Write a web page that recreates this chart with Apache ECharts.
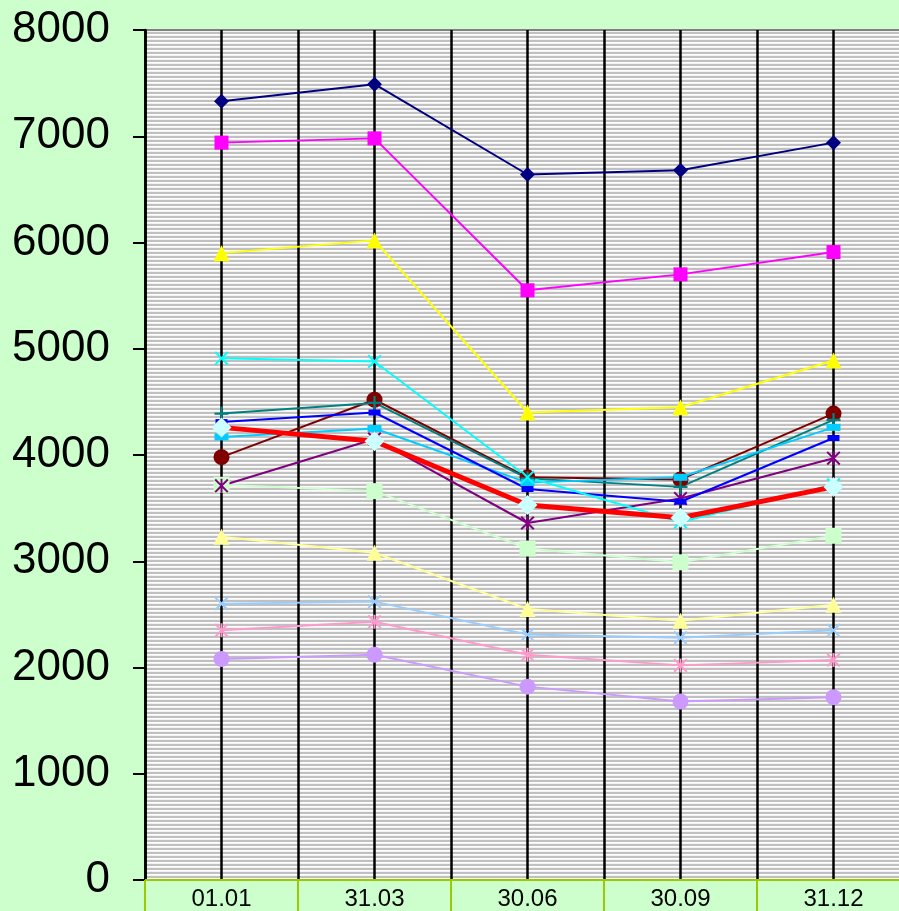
<!DOCTYPE html>
<html>
<head>
<meta charset="utf-8">
<script src="https://cdn.jsdelivr.net/npm/echarts@6/dist/echarts.min.js"></script>
<style>
html,body{margin:0;padding:0;background:#ccffcc;}
#chart{width:899px;height:911px;}
</style>
</head>
<body>
<div id="chart"></div>
<script>
// ---- data ----
const categories = ['01.01', '31.03', '30.06', '30.09', '31.12'];
const yTicks = [0, 1000, 2000, 3000, 4000, 5000, 6000, 7000, 8000];

const navy      = [7330, 7490, 6640, 6680, 6940];
const magenta   = [6940, 6980, 5550, 5700, 5910];
const yellow    = [5900, 6020, 4400, 4450, 4890];
const cyan      = [4910, 4880, 3790, 3370, 3720];
const teal      = [4390, 4490, 3780, 3700, 4330];
const maroon    = [3980, 4520, 3790, 3770, 4390];
const blue      = [4310, 4400, 3680, 3560, 4160];
const skyBlue   = [4170, 4250, 3740, 3790, 4260];
const red       = [4260, 4130, 3530, 3410, 3700];
const purple    = [3710, 4150, 3360, 3590, 3970];
const lightGreen= [3720, 3660, 3120, 2990, 3240];
const lightYellow=[3230, 3080, 2550, 2440, 2590];
const lightBlue = [2600, 2620, 2310, 2280, 2350];
const pink      = [2350, 2430, 2120, 2020, 2070];
const lavender  = [2080, 2120, 1820, 1680, 1720];

// ---- symbols ----
const SYM_X = 'path://M0,1 L1,0 L5,4 L9,0 L10,1 L6,5 L10,9 L9,10 L5,6 L1,10 L0,9 L4,5 Z';
const SYM_PLUS = 'path://M4.2,0 L5.8,0 L5.8,4.2 L10,4.2 L10,5.8 L5.8,5.8 L5.8,10 L4.2,10 L4.2,5.8 L0,5.8 L0,4.2 L4.2,4.2 Z';
const SYM_STAR = 'path://M0,1 L1,0 L5,4 L9,0 L10,1 L6,5 L10,9 L9,10 L5,6 L1,10 L0,9 L4,5 Z M4.3,0 L5.7,0 L5.7,10 L4.3,10 Z';

// stripe pattern for plot background
const pc = document.createElement('canvas');
pc.width = 4; pc.height = 4;
const pctx = pc.getContext('2d');
pctx.fillStyle = '#c0c0c0'; pctx.fillRect(0, 0, 4, 2);
pctx.fillStyle = '#ffffff'; pctx.fillRect(0, 2, 4, 1);
pctx.fillStyle = '#f2f2f2'; pctx.fillRect(0, 3, 4, 1);

function mk(name, data, color, symbol, size, width, markerColor) {
  return {
    name: name, type: 'line', data: data,
    xAxisIndex: 0, yAxisIndex: 0,
    symbol: symbol, symbolSize: size, showAllSymbol: true,
    lineStyle: { color: color, width: width || 2 },
    itemStyle: { color: markerColor || color, borderWidth: 0 },
    emphasis: { disabled: true },
    animation: false
  };
}

const series = [
  mk('lavender', lavender, '#cc99ff', 'circle', 16),
  mk('pink', pink, '#ff99cc', SYM_STAR, 14),
  mk('lightBlue', lightBlue, '#99ccff', SYM_X, 14),
  mk('lightYellow', lightYellow, '#ffff99', 'triangle', 16),
  mk('lightGreen', lightGreen, '#ccffcc', 'rect', 16),
  mk('purple', purple, '#800080', SYM_STAR, 14),
  mk('maroon', maroon, '#800000', 'circle', 16),
  mk('teal', teal, '#008080', SYM_PLUS, 14),
  mk('skyBlue', skyBlue, '#00ccff', 'rect', [14, 7]),
  mk('blue', blue, '#0000ff', 'rect', [12, 6]),
  mk('cyan', cyan, '#00ffff', SYM_X, 14),
  mk('red', red, '#ff0000', 'diamond', 20, 5, '#ccffff'),
  mk('yellow', yellow, '#ffff00', 'triangle', 16),
  mk('magenta', magenta, '#ff00ff', 'rect', 14),
  mk('navy', navy, '#000080', 'diamond', 15)
];

const chart = echarts.init(document.getElementById('chart'), null, { renderer: 'canvas' });
chart.setOption({
  backgroundColor: '#ccffcc',
  animation: false,
  textStyle: { fontFamily: 'Liberation Sans, Arial, sans-serif' },
  grid: {
    left: 145, top: 30, width: 765, height: 850,
    outerBoundsMode: 'none',
    containLabel: false,
    show: true,
    backgroundColor: { image: pc, repeat: 'repeat' },
    borderColor: '#808080', borderWidth: 2
  },
  xAxis: [
    {
      type: 'category', data: categories, boundaryGap: true,
      axisLine: { show: true, lineStyle: { color: '#99cc00', width: 2 } },
      axisTick: { show: true, interval: 0, length: 32, lineStyle: { color: '#99cc00', width: 2 } },
      axisLabel: { interval: 0, fontSize: 24, color: '#000', margin: 7, fontFamily: 'Liberation Sans' },
      splitLine: { show: false },
      z: 5
    },
    {
      type: 'value', min: 0, max: 10, interval: 1, position: 'bottom',
      axisLine: { show: false }, axisTick: { show: false }, axisLabel: { show: false },
      splitLine: { show: true, lineStyle: { color: '#000', width: 2.5 } }
    }
  ],
  yAxis: {
    type: 'value', min: yTicks[0], max: yTicks[yTicks.length - 1], interval: 1000,
    axisLine: { show: true, lineStyle: { color: '#000', width: 2.5 } },
    axisTick: { show: true, length: 12, lineStyle: { color: '#000', width: 2 } },
    axisLabel: { fontSize: 44, color: '#000', margin: 35, fontFamily: 'Liberation Sans',
                 formatter: function (v) { return String(v); } },
    splitLine: { show: false },
    z: 5
  },
  series: series
});
</script>
</body>
</html>
